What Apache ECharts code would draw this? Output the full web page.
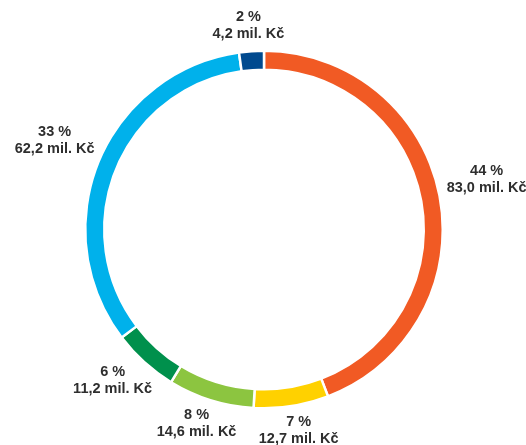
<!DOCTYPE html>
<html>
<head>
<meta charset="utf-8">
<script src="https://cdn.jsdelivr.net/npm/echarts@6/dist/echarts.min.js"></script>
<style>
html,body{margin:0;padding:0;background:#fff;}
#chart{width:526px;height:445px;}
</style>
</head>
<body>
<div id="chart"></div>
<script>
// Data (mil. Kč), clockwise from top
const categories = ['Oranžová', 'Žlutá', 'Světle zelená', 'Tmavě zelená', 'Světle modrá', 'Tmavě modrá'];
const values = [83.0, 12.7, 14.6, 11.2, 62.2, 4.2];
const colors = ['#F15A24', '#FFD100', '#8CC540', '#00904C', '#00B1EB', '#004A8F'];

const CX = 264, CY = 229.5, R_OUT = 177.5, R_IN = 161, BORDER = 2.5, GAP = 9;
const total = values.reduce((a, b) => a + b, 0);

function fmt(v) { return v.toFixed(1).replace('.', ','); }

const chart = echarts.init(document.getElementById('chart'), null, {renderer: 'canvas'});
chart.setOption({
  animation: false,
  series: [{
    type: 'pie',
    center: [CX, CY],
    radius: [R_IN - BORDER / 2, R_OUT + BORDER / 2],
    startAngle: 90,
    clockwise: true,
    avoidLabelOverlap: false,
    itemStyle: { borderColor: '#ffffff', borderWidth: BORDER },
    label: {
      show: true,
      position: 'outside',
      color: '#2e2e2e',
      fontFamily: 'Liberation Sans, Arial, sans-serif',
      fontWeight: 'bold',
      fontSize: 14.5,
      lineHeight: 17,
      align: 'center',
      formatter: function (p) {
        return Math.round(p.value / total * 100) + ' %\n' + fmt(p.value) + ' mil. Kč';
      }
    },
    labelLine: { show: false },
    labelLayout: function (p) {
      const i = p.dataIndex;
      let cum = 0;
      for (let k = 0; k < i; k++) cum += values[k];
      const mid = (90 - (cum + values[i] / 2) / total * 360) * Math.PI / 180;
      const dx = Math.cos(mid), dy = -Math.sin(mid);
      const w = p.labelRect.width, h = p.labelRect.height;
      const r = R_OUT + GAP;
      const lift = dy < 0 ? -13 * Math.abs(dx) : 0;
      return {
        x: CX + dx * r + dx * w / 2,
        y: CY + dy * r + dy * h / 2 + lift,
        align: 'center',
        verticalAlign: 'middle'
      };
    },
    emphasis: { disabled: true },
    data: categories.map((c, i) => ({ name: c, value: values[i], itemStyle: { color: colors[i] } }))
  }]
});
</script>
</body>
</html>
